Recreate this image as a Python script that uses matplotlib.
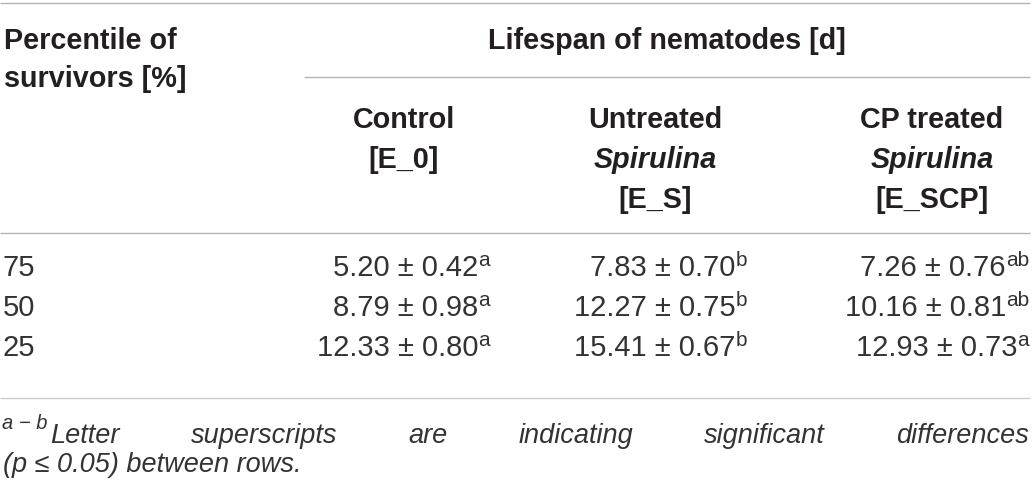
import matplotlib
matplotlib.use("Agg")
import matplotlib.pyplot as plt

plt.rcParams["font.family"] = ["Liberation Sans", "DejaVu Sans"]

# table content
row_labels = ["75", "50", "25"]
control_mean = [5.20, 8.79, 12.33]
control_sd = [0.42, 0.98, 0.80]
control_sig = ["a", "a", "a"]
untreated_mean = [7.83, 12.27, 15.41]
untreated_sd = [0.70, 0.75, 0.67]
untreated_sig = ["b", "b", "b"]
cp_mean = [7.26, 10.16, 12.93]
cp_sd = [0.76, 0.81, 0.73]
cp_sig = ["ab", "ab", "a"]

stub_title = ["Percentile of", "survivors [%]"]
span_title = "Lifespan of nematodes [d]"
col_titles = [
    [("Control", "normal"), ("[E_0]", "normal")],
    [("Untreated", "normal"), ("Spirulina", "italic"), ("[E_S]", "normal")],
    [("CP treated", "normal"), ("Spirulina", "italic"), ("[E_SCP]", "normal")],
]
note_sup = "a \u2212 b"
note_words = ["Letter", "superscripts", "are", "indicating", "significant", "differences"]
note_line2 = "(p \u2264 0.05) between rows."

W, H = 1035, 488
HEAD = "#231f20"
BODY = "#333333"
RULE = "#b5b5b5"

fig = plt.figure(figsize=(W / 100, H / 100), dpi=100)
ax = fig.add_axes([0, 0, 1, 1])
ax.set_xlim(0, W)
ax.set_ylim(H, 0)
ax.axis("off")
renderer = fig.canvas.get_renderer()


def width(t):
    return t.get_window_extent(renderer).width


# rules
for y in [3, 233]:
    ax.hlines(y, 0, 1030, color=RULE, lw=1.0)
ax.hlines(398, 0, 1030, color="#cccccc", lw=1.0)
ax.hlines(77, 304, 1030, color=RULE, lw=1.0)

# header
hfs = 20.7
for i, s in enumerate(stub_title):
    ax.text(4, 49 + 38 * i, s, fontsize=hfs, fontweight="bold", color=HEAD, va="baseline")
ax.text(667, 49, span_title, fontsize=hfs, fontweight="bold", color=HEAD,
        ha="center", va="baseline")

col_centers = [404, 655, 932]
for cx, lines in zip(col_centers, col_titles):
    for j, (s, style) in enumerate(lines):
        ax.text(cx, 128 + 40 * j, s, fontsize=hfs, fontweight="bold", style=style,
                color=HEAD, ha="center", va="baseline")

# body rows
bfs = 21
sfs = 15
baselines = [276, 316, 356]
col_right = [490, 747, 1029]
columns = [
    (control_mean, control_sd, control_sig),
    (untreated_mean, untreated_sd, untreated_sig),
    (cp_mean, cp_sd, cp_sig),
]
for i, yb in enumerate(baselines):
    ax.text(3, yb, row_labels[i], fontsize=bfs, color=BODY, va="baseline")
    for xr, (means, sds, sigs) in zip(col_right, columns):
        sup = ax.text(xr, yb - 10, sigs[i], fontsize=sfs, color=BODY, ha="right", va="baseline")
        ax.text(xr - width(sup), yb, f"{means[i]:.2f} \u00b1 {sds[i]:.2f}", fontsize=bfs,
                color=BODY, ha="right", va="baseline")

# footnote, first line justified
nfs = 19.5
sup = ax.text(2, 429, note_sup, fontsize=14.5, style="italic", color=BODY, va="baseline")
x0 = 50
x1 = 1029
words = [ax.text(0, 443, w, fontsize=nfs, style="italic", color=BODY, va="baseline")
         for w in note_words]
widths = [width(t) for t in words]
gap = (x1 - x0 - sum(widths)) / (len(words) - 1)
x = x0
for t, w in zip(words, widths):
    t.set_x(x)
    x += w + gap
ax.text(3, 472, note_line2, fontsize=nfs, style="italic", color=BODY, va="baseline")

fig.savefig("out.png", dpi=100, facecolor="white")
